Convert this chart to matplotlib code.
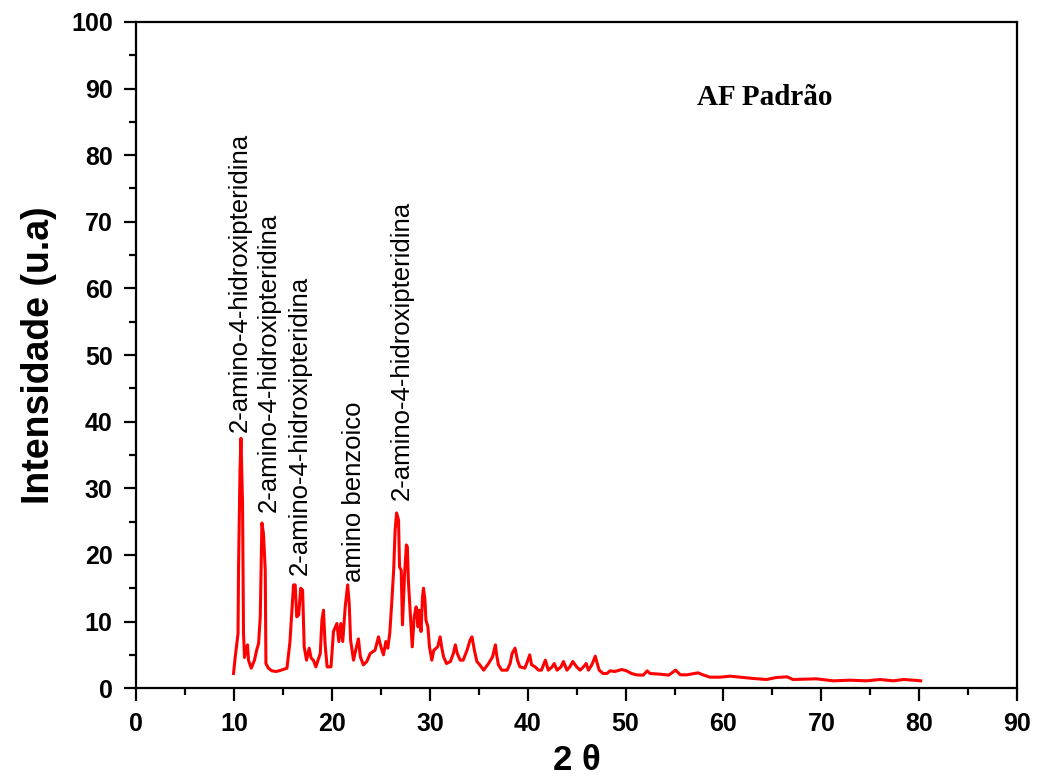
import numpy as np
import matplotlib
matplotlib.use("Agg")
from matplotlib import pyplot as plt
from matplotlib.ticker import MultipleLocator

# diffractogram (2 theta, intensity)
two_theta = [9.94, 10.1, 10.4, 10.45, 10.6, 10.7, 10.86, 10.96, 11.06, 11.2,
             11.37, 11.47, 11.75, 12.08, 12.3, 12.5, 12.67, 12.84, 13.0, 13.18,
             13.25, 13.5, 13.86, 14.3, 14.8, 15.4, 15.7, 16.07, 16.24, 16.4,
             16.6, 16.8, 17.0, 17.16, 17.4, 17.67, 17.87, 18.1, 18.35, 18.8,
             18.97, 19.13, 19.3, 19.5, 19.9, 20.15, 20.5, 20.7, 20.9, 21.1,
             21.35, 21.6, 21.76, 21.9, 22.2, 22.5, 22.7, 22.9, 23.2, 23.56,
             23.9, 24.4, 24.75, 25.0, 25.26, 25.5, 25.7, 25.9, 26.1, 26.3,
             26.45, 26.6, 26.8, 26.9, 27.07, 27.2, 27.4, 27.6, 27.7, 27.8,
             28.06, 28.2, 28.4, 28.6, 28.8, 28.9, 29.1, 29.25, 29.35, 29.5,
             29.6, 29.8, 29.96, 30.2, 30.4, 30.8, 31.05, 31.2, 31.4, 31.7,
             32.1, 32.4, 32.6, 32.8, 33.1, 33.4, 33.8, 34.1, 34.3, 34.55,
             34.8, 35.1, 35.5, 36.0, 36.4, 36.7, 36.8, 37.0, 37.35, 37.9,
             38.2, 38.4, 38.7, 38.95, 39.2, 39.7, 39.97, 40.2, 40.4, 40.75,
             41.1, 41.4, 41.8, 42.1, 42.5, 42.7, 43.0, 43.4, 43.65, 44.0,
             44.3, 44.6, 45.0, 45.35, 45.7, 45.97, 46.2, 46.55, 46.9, 47.1,
             47.3, 47.7, 48.1, 48.4, 48.9, 49.6, 50.1, 50.6, 51.1, 51.8,
             52.2, 52.5, 53.5, 54.4, 55.1, 55.6, 56.25, 57.4, 57.9, 58.6,
             59.65, 60.7, 63.05, 64.4, 65.4, 66.5, 67.1, 69.5, 71.2, 72.9,
             74.6, 76.0, 77.35, 78.4, 79.4, 80.15]
intensity = [2.2, 4.5, 8.2, 17.7, 32.7, 37.5, 27.8, 8.2, 4.6, 5.7,
             6.5, 4.2, 3.0, 4.2, 5.7, 6.7, 10.7, 24.8, 23.2, 17.7,
             3.7, 3.0, 2.6, 2.5, 2.7, 3.0, 6.9, 15.5, 15.5, 10.7,
             11.0, 15.0, 14.7, 6.2, 4.2, 6.0, 4.5, 4.2, 3.2, 5.2,
             10.2, 11.7, 6.5, 3.2, 3.2, 8.5, 9.7, 7.0, 9.7, 7.0,
             12.2, 15.5, 12.7, 7.2, 4.2, 6.2, 7.4, 4.7, 3.5, 4.0,
             5.2, 5.7, 7.7, 6.2, 5.0, 7.0, 6.0, 8.2, 12.7, 17.7,
             23.7, 26.3, 25.2, 18.2, 17.7, 9.5, 16.7, 21.5, 21.2, 16.2,
             9.7, 6.2, 10.7, 12.2, 9.2, 11.7, 8.5, 13.7, 15.0, 13.2,
             10.2, 9.2, 6.2, 4.2, 5.7, 6.2, 7.7, 6.2, 4.7, 3.7,
             4.0, 5.2, 6.5, 5.2, 4.2, 4.2, 5.7, 7.2, 7.7, 5.7,
             4.0, 3.5, 2.7, 3.7, 4.7, 6.5, 5.2, 3.5, 2.7, 2.7,
             3.7, 5.2, 6.0, 4.2, 3.2, 3.0, 4.0, 5.0, 3.5, 3.2,
             2.7, 2.7, 4.2, 2.7, 3.2, 3.7, 2.7, 3.2, 4.0, 2.7,
             3.2, 4.0, 3.2, 2.7, 3.2, 3.7, 2.7, 3.5, 4.8, 3.7,
             2.7, 2.2, 2.2, 2.6, 2.5, 2.8, 2.6, 2.2, 2.0, 1.95,
             2.6, 2.2, 2.1, 1.95, 2.7, 2.0, 2.0, 2.3, 2.0, 1.65,
             1.65, 1.8, 1.45, 1.3, 1.6, 1.7, 1.3, 1.4, 1.1, 1.2,
             1.1, 1.3, 1.1, 1.3, 1.2, 1.1]

# peak labels (text anchor = bottom of rotated label)
peak_labels = ["2-amino-4-hidroxipteridina", "2-amino-4-hidroxipteridina",
               "2-amino-4-hidroxipteridina", "amino benzoico",
               "2-amino-4-hidroxipteridina"]
label_x = [10.6, 13.5, 16.75, 22.2, 27.1]
label_y = [38.4, 26.4, 17.0, 15.9, 28.2]

plt.rcParams['font.family'] = ['Liberation Sans', 'DejaVu Sans']

fig = plt.figure(figsize=(10.4, 7.82), dpi=100)
ax = fig.add_axes([0.131, 0.120, 0.847, 0.852])

ax.plot(two_theta, intensity, color='#ff0000', lw=2.2)

for txt, x, y in zip(peak_labels, label_x, label_y):
    ax.text(x, y, txt, rotation=90, ha='center', va='bottom', fontsize=18.5)

ax.text(0.637, 0.886, "AF Padrão", transform=ax.transAxes, fontsize=21,
        fontweight='bold', family='Liberation Serif', va='center')

ax.set_xlim(0, 90)
ax.set_ylim(0, 100)
ax.xaxis.set_major_locator(MultipleLocator(10))
ax.xaxis.set_minor_locator(MultipleLocator(5))
ax.yaxis.set_major_locator(MultipleLocator(10))
ax.yaxis.set_minor_locator(MultipleLocator(5))

for s in ax.spines.values():
    s.set_linewidth(1.6)
ax.tick_params(which='major', direction='out', length=9, width=1.6,
               labelsize=18, pad=8)
ax.tick_params(which='minor', direction='out', length=5, width=1.6)
for lab in ax.get_xticklabels() + ax.get_yticklabels():
    lab.set_fontweight('bold')

ax.set_xlabel("2 θ", fontsize=25, fontweight='bold', labelpad=6)
ax.set_ylabel("Intensidade (u.a)", fontsize=27, fontweight='bold', labelpad=10)

fig.savefig("out.png", dpi=100)
